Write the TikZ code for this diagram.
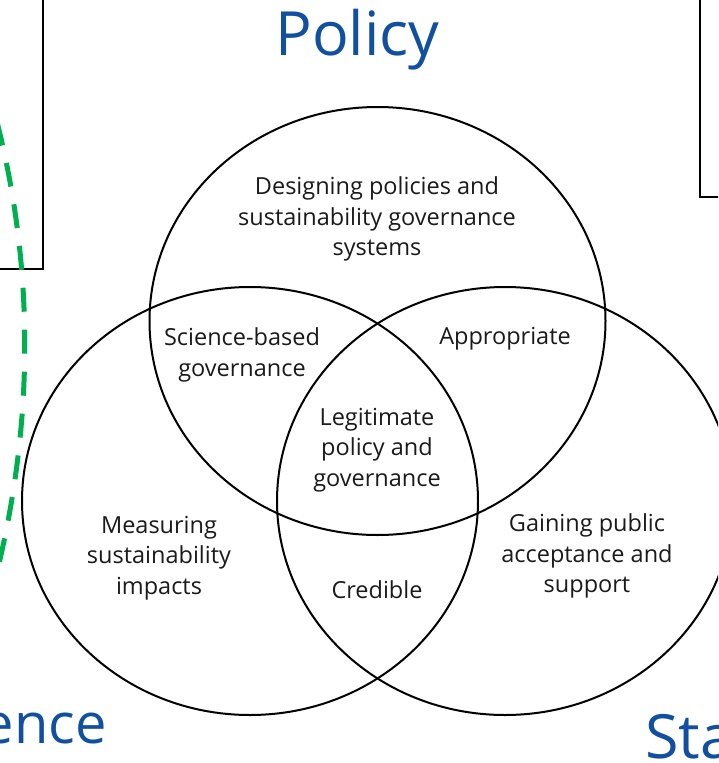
\documentclass[tikz,border=0pt]{standalone}
\usepackage{fontspec}
\setmainfont{Open Sans}
\usetikzlibrary{shapes.geometric}
\definecolor{ink}{HTML}{1A1A1A}
\definecolor{titleblue}{HTML}{1150A0}
\definecolor{dashgreen}{HTML}{00B050}

\begin{document}
\begin{tikzpicture}[
  x=1pt, y=-1pt,
  venn/.style={draw=black, line width=2pt, ellipse, inner sep=0pt,
    minimum width=456pt, minimum height=428pt},
  panel/.style={draw=black, line width=1.8pt, inner sep=0pt,
    minimum width=120pt, minimum height=300pt},
  region/.style={text=ink, align=center, inner sep=0pt,
    font=\fontsize{23.5}{30.5}\selectfont},
  heading/.style={text=titleblue, inner sep=0pt,
    font=\fontsize{61}{61}\selectfont}
]
  \useasboundingbox (0,0) rectangle (718,763);
  \clip (0,0) rectangle (718,763);

  % side panels, cut off by the frame
  \node[panel, anchor=south east] (leftpanel) at (44,270) {};
  \node[panel, anchor=south west] (rightpanel) at (699,198) {};

  % the three sets
  \node[venn] (polset) at (377.5,321) {};
  \node[venn] (sciset) at (250,501) {};
  \node[venn] (stakeset) at (505,501) {};

  \node[heading, anchor=base] (policy) at (357.5,55) {Policy};
  \node[heading, font=\fontsize{56}{56}\selectfont, anchor=base east] (science) at (107,743) {ence};
  \node[heading, anchor=base west] (stake) at (645,758) {Sta};

  \node[region] (design) at (377,219) {Designing policies and\\sustainability governance\\systems};
  \node[region] (scibased) at (242,355) {Science-based\\governance};
  \node[region] (approp) at (505,339) {Appropriate};
  \node[region] (legit) at (377,450) {Legitimate\\policy and\\governance};
  \node[region] (measure) at (159,558) {Measuring\\sustainability\\impacts};
  \node[region] (gaining) at (587,556) {Gaining public\\acceptance and\\support};
  \node[region] (credible) at (377,590) {Credible};

  % green dashed boundary on the left
  \coordinate (arctop) at (-3,122);
  \coordinate (arcbot) at (-3,572);
  \draw[dashgreen, line width=5pt, dash pattern=on 24pt off 18pt]
    (arctop) .. controls (34,268) and (34,420) .. (arcbot);
\end{tikzpicture}
\end{document}
